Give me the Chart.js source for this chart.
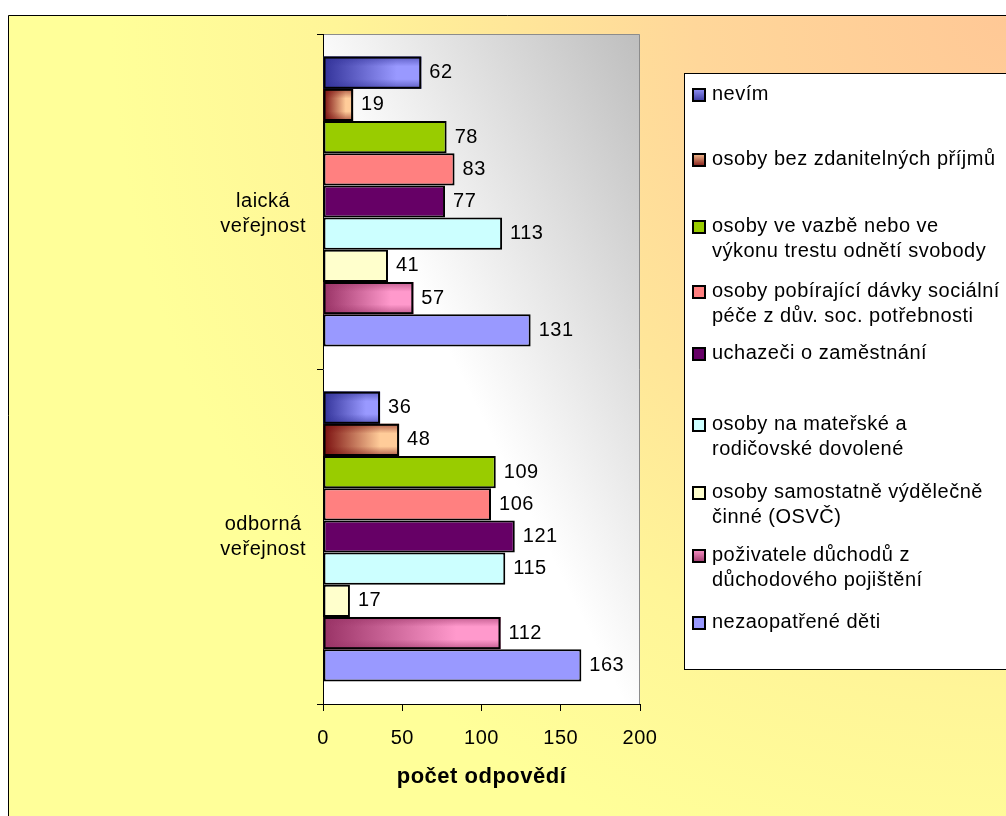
<!DOCTYPE html>
<html>
<head>
<meta charset="utf-8">
<script src="https://cdn.jsdelivr.net/npm/chart.js@4/dist/chart.umd.min.js"></script>
<style>
  html, body { margin: 0; padding: 0; background: #ffffff; overflow: hidden; }
  canvas { display: block; }
</style>
</head>
<body>
<canvas id="chart" width="1006" height="816"></canvas>
<script>
// Respondent groups (categories on the vertical axis)
const categories = [['laická', 'veřejnost'], ['odborná', 'veřejnost']];

// Answers per group
const nevim      = [62, 36];
const bezPrijmu  = [19, 48];
const veVazbe    = [78, 109];
const davkySoc   = [83, 106];
const uchazeci   = [77, 121];
const materske   = [113, 115];
const osvc       = [41, 17];
const duchodci   = [57, 112];
const deti       = [131, 163];

// Series names (legend lines)
const seriesLabels = [
  ['nevím'],
  ['osoby bez zdanitelných příjmů'],
  ['osoby ve vazbě nebo ve', 'výkonu trestu odnětí svobody'],
  ['osoby pobírající dávky sociální', 'péče z dův. soc. potřebnosti'],
  ['uchazeči o zaměstnání'],
  ['osoby na mateřské a', 'rodičovské dovolené'],
  ['osoby samostatně výdělečně', 'činné (OSVČ)'],
  ['poživatele důchodů z', 'důchodového pojištění'],
  ['nezaopatřené děti']
];
const seriesValues = [nevim, bezPrijmu, veVazbe, davkySoc, uchazeci, materske, osvc, duchodci, deti];

// Axis
const xTicks = [0, 50, 100, 150, 200];
const axisTitle = 'počet odpovědí';

const FONT = '"Liberation Sans", Arial, sans-serif';
const FS = 20;
const SPACING = '0.5px';

// Fill styles: solid colours, or [dark, light] pairs for shaded bars
const fills = [
  { grad: ['#333399', '#9999FF'] },
  { grad: ['#7A0F0F', '#FFCC99'] },
  { solid: '#99CC00' },
  { solid: '#FF8080' },
  { solid: '#660066' },
  { solid: '#CCFFFF' },
  { solid: '#FFFFCC' },
  { grad: ['#993366', '#FF99CC'] },
  { solid: '#9999FF' }
];

function hexToRgba(hex, a) {
  const n = parseInt(hex.slice(1), 16);
  return `rgba(${(n >> 16) & 255},${(n >> 8) & 255},${n & 255},${a})`;
}

const datasets = seriesValues.map((vals, i) => ({
  label: seriesLabels[i].join(' '),
  data: vals,
  backgroundColor: fills[i].solid || fills[i].grad[1],
  borderColor: '#000000',
  borderWidth: 2,
  borderSkipped: false,
  barPercentage: 1.0,
  categoryPercentage: 0.865
}));

// Slightly wider letter spacing for all canvas text
const textSpacing = {
  id: 'textSpacing',
  afterInit(chart) { chart.ctx.letterSpacing = SPACING; },
  beforeUpdate(chart) { chart.ctx.letterSpacing = SPACING; },
  beforeDraw(chart) { chart.ctx.letterSpacing = SPACING; }
};

// Page background, framed chart box and the plot-area wash
const backdrop = {
  id: 'backdrop',
  beforeDraw(chart) {
    const { ctx, chartArea: a } = chart;
    ctx.save();
    ctx.fillStyle = '#ffffff';
    ctx.fillRect(0, 0, chart.width, chart.height);
    const g = ctx.createRadialGradient(1010, 15, 0, 1010, 15, 900);
    g.addColorStop(0, '#FFC896');
    g.addColorStop(0.35, '#FFD79A');
    g.addColorStop(0.75, '#FFF598');
    g.addColorStop(1, '#FFFF99');
    ctx.fillStyle = g;
    ctx.fillRect(8, 15, chart.width - 8, chart.height - 15);
    ctx.strokeStyle = '#000000';
    ctx.lineWidth = 1;
    ctx.beginPath();
    ctx.moveTo(8.5, chart.height);
    ctx.lineTo(8.5, 15.5);
    ctx.lineTo(chart.width, 15.5);
    ctx.stroke();

    const pg = ctx.createLinearGradient(a.right, a.top, a.right - 280, a.top + 140);
    pg.addColorStop(0, '#BEBEBE');
    pg.addColorStop(1, '#FFFFFF');
    ctx.fillStyle = pg;
    ctx.fillRect(a.left, a.top, a.right - a.left, a.bottom - a.top);
    ctx.strokeStyle = '#8C8C8C';
    ctx.beginPath();
    ctx.moveTo(a.left, a.top + 0.5);
    ctx.lineTo(a.right - 0.5, a.top + 0.5);
    ctx.lineTo(a.right - 0.5, a.bottom);
    ctx.stroke();
    ctx.restore();
  }
};

// Shaded bars: horizontal ramp plus darker top/bottom edges
const shadedBars = {
  id: 'shadedBars',
  afterDatasetDraw(chart, args) {
    const f = fills[args.index];
    if (!f.grad) return;
    const { ctx } = chart;
    const meta = args.meta;
    ctx.save();
    meta.data.forEach(el => {
      const p = el.getProps(['x', 'y', 'base', 'height'], true);
      const x0 = Math.min(p.base, p.x), x1 = Math.max(p.base, p.x);
      const y0 = p.y - p.height / 2, y1 = p.y + p.height / 2;
      const h = ctx.createLinearGradient(x0, 0, x1, 0);
      h.addColorStop(0, f.grad[0]);
      h.addColorStop(0.75, f.grad[1]);
      h.addColorStop(1, f.grad[1]);
      ctx.fillStyle = h;
      ctx.fillRect(x0, y0, x1 - x0, y1 - y0);
      const v = ctx.createLinearGradient(0, y0, 0, y1);
      v.addColorStop(0, hexToRgba(f.grad[0], 0.6));
      v.addColorStop(0.3, hexToRgba(f.grad[0], 0));
      v.addColorStop(0.7, hexToRgba(f.grad[0], 0));
      v.addColorStop(1, hexToRgba(f.grad[0], 0.6));
      ctx.fillStyle = v;
      ctx.fillRect(x0, y0, x1 - x0, y1 - y0);
      ctx.strokeStyle = '#000000';
      ctx.lineWidth = 2;
      ctx.strokeRect(x0 + 1, y0 + 1, x1 - x0 - 2, y1 - y0 - 2);
    });
    ctx.restore();
  }
};

// Value labels to the right of each bar
const valueLabels = {
  id: 'valueLabels',
  afterDatasetsDraw(chart) {
    const { ctx } = chart;
    ctx.save();
    ctx.font = `${FS}px ${FONT}`;
    ctx.fillStyle = '#000000';
    ctx.textAlign = 'left';
    ctx.textBaseline = 'middle';
    chart.data.datasets.forEach((ds, i) => {
      chart.getDatasetMeta(i).data.forEach((el, j) => {
        ctx.fillText(String(ds.data[j]), el.x + 8, el.y);
      });
    });
    ctx.restore();
  }
};

// Legend panel on the right
const legendPanel = {
  id: 'legendPanel',
  afterDraw(chart) {
    const { ctx } = chart;
    const box = { x: 684.5, y: 73.5, w: 400, h: 596 };
    const firstLine = [94, 159, 226, 291, 353, 424, 492, 555, 622];
    const lineGap = 25;
    ctx.save();
    ctx.fillStyle = '#ffffff';
    ctx.fillRect(box.x, box.y, box.w, box.h);
    ctx.strokeStyle = '#000000';
    ctx.lineWidth = 1;
    ctx.strokeRect(box.x, box.y, box.w, box.h);
    ctx.font = `${FS}px ${FONT}`;
    ctx.textAlign = 'left';
    ctx.textBaseline = 'middle';
    seriesLabels.forEach((lines, i) => {
      const cy = firstLine[i];
      const mx = 692, my = Math.round(cy - 6);
      const f = fills[i];
      if (f.grad) {
        const g = ctx.createLinearGradient(0, my, 0, my + 14);
        g.addColorStop(0, f.grad[1]);
        g.addColorStop(1, f.grad[0]);
        ctx.fillStyle = g;
      } else {
        ctx.fillStyle = f.solid;
      }
      ctx.fillRect(mx, my, 14, 14);
      ctx.strokeStyle = '#000000';
      ctx.lineWidth = 2;
      ctx.strokeRect(mx + 1, my + 1, 12, 12);
      ctx.fillStyle = '#000000';
      lines.forEach((t, k) => ctx.fillText(t, 712, cy + k * lineGap));
    });
    ctx.restore();
  }
};

new Chart(document.getElementById('chart'), {
  type: 'bar',
  data: { labels: categories, datasets },
  options: {
    indexAxis: 'y',
    responsive: false,
    animation: false,
    devicePixelRatio: 1,
    layout: { padding: { left: 0, top: 34, right: 366, bottom: 0 } },
    plugins: {
      legend: { display: false },
      tooltip: { enabled: false }
    },
    scales: {
      x: {
        min: xTicks[0],
        max: xTicks[xTicks.length - 1],
        afterBuildTicks(scale) { scale.ticks = xTicks.map(v => ({ value: v })); },
        afterFit(scale) { scale.height = 112; scale.paddingLeft = 0; scale.paddingRight = 0; },
        border: { display: true, color: '#000000', width: 1 },
        grid: { drawOnChartArea: false, drawTicks: true, tickLength: 7, color: '#000000', tickColor: '#000000' },
        ticks: { color: '#000000', padding: 15, font: { family: FONT, size: FS } },
        title: {
          display: true,
          text: axisTitle,
          color: '#000000',
          font: { family: FONT, size: 22, weight: 'bold' },
          padding: { top: 0, bottom: 26 }
        }
      },
      y: {
        afterFit(scale) { scale.width = 323; scale.paddingTop = 0; scale.paddingBottom = 0; },
        border: { display: true, color: '#000000', width: 1 },
        grid: { drawOnChartArea: false, drawTicks: true, tickLength: 6, color: '#000000', tickColor: '#000000', offset: true },
        ticks: {
          color: '#000000',
          padding: 11,
          crossAlign: 'center',
          font: { family: FONT, size: FS, lineHeight: 1.25 },
          // the upper group label sits half a line lower than its band centre
          callback(value, index) {
            const lines = categories[index];
            return index === 0 ? [''].concat(lines) : lines;
          }
        }
      }
    }
  },
  plugins: [textSpacing, backdrop, shadedBars, valueLabels, legendPanel]
});
</script>
</body>
</html>
